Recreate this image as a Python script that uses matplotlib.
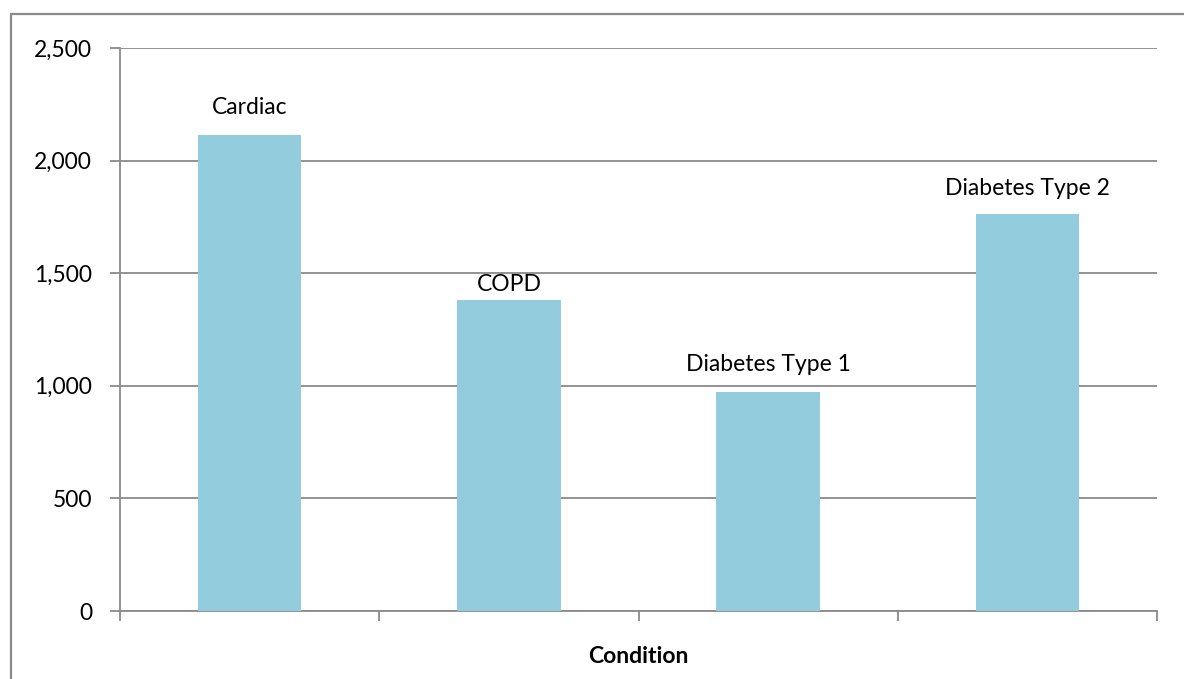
import matplotlib
matplotlib.use("Agg")
import matplotlib.pyplot as plt
from matplotlib.patches import Rectangle
from matplotlib.ticker import FuncFormatter, MultipleLocator

categories = ["Cardiac", "COPD", "Diabetes Type 1", "Diabetes Type 2"]
values = [2112, 1381, 972, 1763]
label_offsets = [28, 15, 28, 25]  # pixel gap between bar top and label centre

W, H = 1184, 679
fig = plt.figure(figsize=(W / 100, H / 100), dpi=100)
plt.rcParams['font.family'] = ['Lato', 'DejaVu Sans']
FS = 16.5

# outer border
fig.patches.append(Rectangle((11 / W, -0.1), 1.2, 1 - 14 / H + 0.1, transform=fig.transFigure,
                             fill=False, edgecolor="#8a8a8a", linewidth=1.6))

ax = fig.add_axes([120 / W, 1 - 611 / H, 1037 / W, 563 / H])
x = list(range(len(categories)))
ax.bar(x, values, width=0.4, color="#93CDDD", zorder=3)
ax.set_xlim(-0.5, len(categories) - 0.5)
ax.set_ylim(0, 2500)
ax.yaxis.set_major_locator(MultipleLocator(500))
ax.yaxis.set_major_formatter(FuncFormatter(lambda v, p: f"{int(v):,}"))
ax.grid(axis="y", color="#8a8a8a", linewidth=1.3, zorder=0)
ax.set_xticks([i - 0.5 for i in range(len(categories) + 1)])
ax.set_xticklabels([])
for s in ["top", "right"]:
    ax.spines[s].set_visible(False)
for s in ["left", "bottom"]:
    ax.spines[s].set_color("#8a8a8a")
    ax.spines[s].set_linewidth(1.3)
ax.tick_params(axis="y", colors="#8a8a8a", labelcolor="black", labelsize=FS, length=7, width=1.3, pad=13)
ax.tick_params(axis="x", colors="#8a8a8a", length=7, width=1.3)

for i, (c, v, off) in enumerate(zip(categories, values, label_offsets)):
    ax.annotate(c, (i, v), xytext=(0, off * 0.72), textcoords="offset points",
                ha="center", va="center", fontsize=FS, color="black")

ax.set_xlabel("Condition", fontsize=FS, fontweight="bold", labelpad=15)

fig.savefig("out.png", dpi=100)
